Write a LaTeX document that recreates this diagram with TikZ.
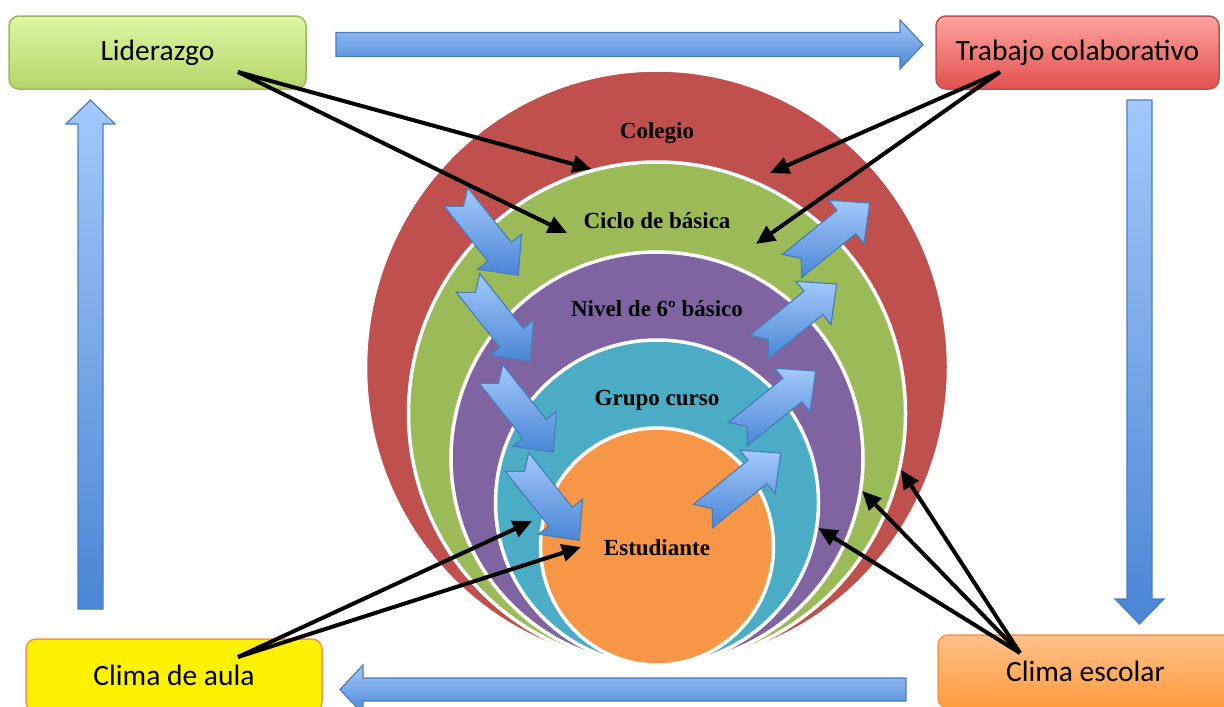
\documentclass[tikz,border=0pt]{standalone}
\usepackage{fontspec}
\setmainfont{Carlito}
\newfontfamily\ringfont{Liberation Serif}
\usetikzlibrary{arrows.meta,shapes.geometric,positioning}
\tikzset{>={Triangle[length=19pt,width=17pt]}}
\definecolor{colred}{HTML}{C0504D}
\definecolor{colgreen}{HTML}{9BBB59}
\definecolor{colpurple}{HTML}{8064A2}
\definecolor{colteal}{HTML}{4BACC6}
\definecolor{colorange}{HTML}{F79646}
\definecolor{arrowlight}{HTML}{A3C9FA}
\definecolor{arrowdark}{HTML}{4A86D6}
\definecolor{arrowline}{HTML}{4A7EBB}
\definecolor{lidtop}{HTML}{DCF8A2}
\definecolor{lidbot}{HTML}{B3D66A}
\definecolor{trabtop}{HTML}{FFA4A1}
\definecolor{trabbot}{HTML}{E2514E}
\definecolor{esctop}{HTML}{FFC08A}
\definecolor{escbot}{HTML}{FF9C3E}
\tikzset{
  box/.style={rounded corners=10pt, line width=1.5pt, minimum height=73pt,
    inner sep=0pt, font=\fontsize{29.5}{35}\selectfont},
  ring/.style={ellipse, draw=white, line width=3.5pt, inner sep=0pt},
  ringtext/.style={font=\ringfont\bfseries\fontsize{23}{27}\selectfont, inner sep=0pt},
  bigarrow/.style={draw=arrowline, line width=1.2pt, top color=arrowlight, bottom color=arrowdark},
  link/.style={->, line width=4pt},
  notched/.pic={\path[bigarrow] (0,15) -- (70,15) -- (70,28) -- (100,0) -- (70,-28)
    -- (70,-15) -- (0,-15) -- (12,0) -- cycle;}
}

\begin{document}
\begin{tikzpicture}[x=1pt,y=-1pt]

\useasboundingbox (0,0) rectangle (1224,707); %% page

%% corner boxes
\node[box, draw=colgreen, top color=lidtop, bottom color=lidbot, minimum width=297pt]
  (lid) at (157.5,52.5) {Liderazgo};
\node[box, draw=colred, top color=trabtop, bottom color=trabbot, minimum width=283pt]
  (trab) at (1077.5,52.5) {Trabajo colaborativo};
\node[box, draw=colorange, fill=yellow, minimum width=296pt]
  (aula) at (174,675.5) {Clima de aula};
\node[box, draw=colorange, top color=esctop, bottom color=escbot, minimum width=295pt]
  (esc) at (1085.5,671.5) {Clima escolar};

%% cycle of block arrows
\path[bigarrow] (336,32.5) -- (900,32.5) -- (900,20) -- (923,44.5) -- (900,69)
  -- (900,56.5) -- (336,56.5) -- cycle;
\path[bigarrow] (1127,100) -- (1152,100) -- (1152,599) -- (1164,599) -- (1139.5,624)
  -- (1115,599) -- (1127,599) -- cycle;
\path[bigarrow] (906,678) -- (906,701) -- (363,701) -- (363,714) -- (340,689.5)
  -- (363,665) -- (363,678) -- cycle;
\path[bigarrow] (78,609) -- (103,609) -- (103,124) -- (115,124) -- (90.5,100)
  -- (66,124) -- (78,124) -- cycle;

%% nested levels
\node[ring, fill=colred, minimum width=583pt, minimum height=595pt] (colegio) at (657,367.5) {};
\node[ring, fill=colgreen, minimum width=497pt, minimum height=503pt] (ciclo) at (657,413.5) {};
\node[ring, fill=colpurple, minimum width=412pt, minimum height=413pt] (nivel) at (657,458.5) {};
\node[ring, fill=colteal, minimum width=323pt, minimum height=325pt] (grupo) at (657,502.5) {};
\node[ring, fill=colorange, minimum width=233pt, minimum height=237pt] (estud) at (657,546.5) {};

\node[ringtext] (colegiotxt) at (657,133) {Colegio};
\node[ringtext] (ciclotxt) at (657,221) {Ciclo de básica};
\node[ringtext] (niveltxt) at (657,309) {Nivel de 6º básico};
\node[ringtext] (grupotxt) at (657,400) {Grupo curso};
\node[ringtext] (estudtxt) at (657,548) {Estudiante};

%% inward and outward arrows
\pic[rotate=-51.5] at (456,197) {notched};
\pic[rotate=-51.5] at (468,283) {notched};
\pic[rotate=-51.5] at (491,374) {notched};
\pic[rotate=-51.5] at (517,462) {notched};
\pic[rotate=39] at (703,516) {notched};
\pic[rotate=39] at (738,434) {notched};
\pic[rotate=39] at (759,347) {notched};
\pic[rotate=39] at (792,266) {notched};

%% influences
\coordinate (lidout) at (238,72);
\coordinate (trabout) at (1000,72);
\coordinate (aulaout) at (238,657);
\coordinate (escout) at (1020,653);
\coordinate (lidend) at (567,233);
\coordinate (trabend1) at (770,173);
\coordinate (trabend2) at (756,244);
\coordinate (aulaend1) at (532,521);
\coordinate (aulaend2) at (581,547);

\draw[link] (lidout) -- (ciclo.105);
\draw[link] (lidout) -- (lidend);
\draw[link] (trabout) -- (trabend1);
\draw[link] (trabout) -- (trabend2);
\draw[link] (aulaout) -- (aulaend1);
\draw[link] (aulaout) -- (aulaend2);
\draw[link] (escout) -- (ciclo.-13);
\draw[link] (escout) -- (nivel.-9.5);
\draw[link] (escout) -- (grupo.-9);

\end{tikzpicture}
\end{document}
